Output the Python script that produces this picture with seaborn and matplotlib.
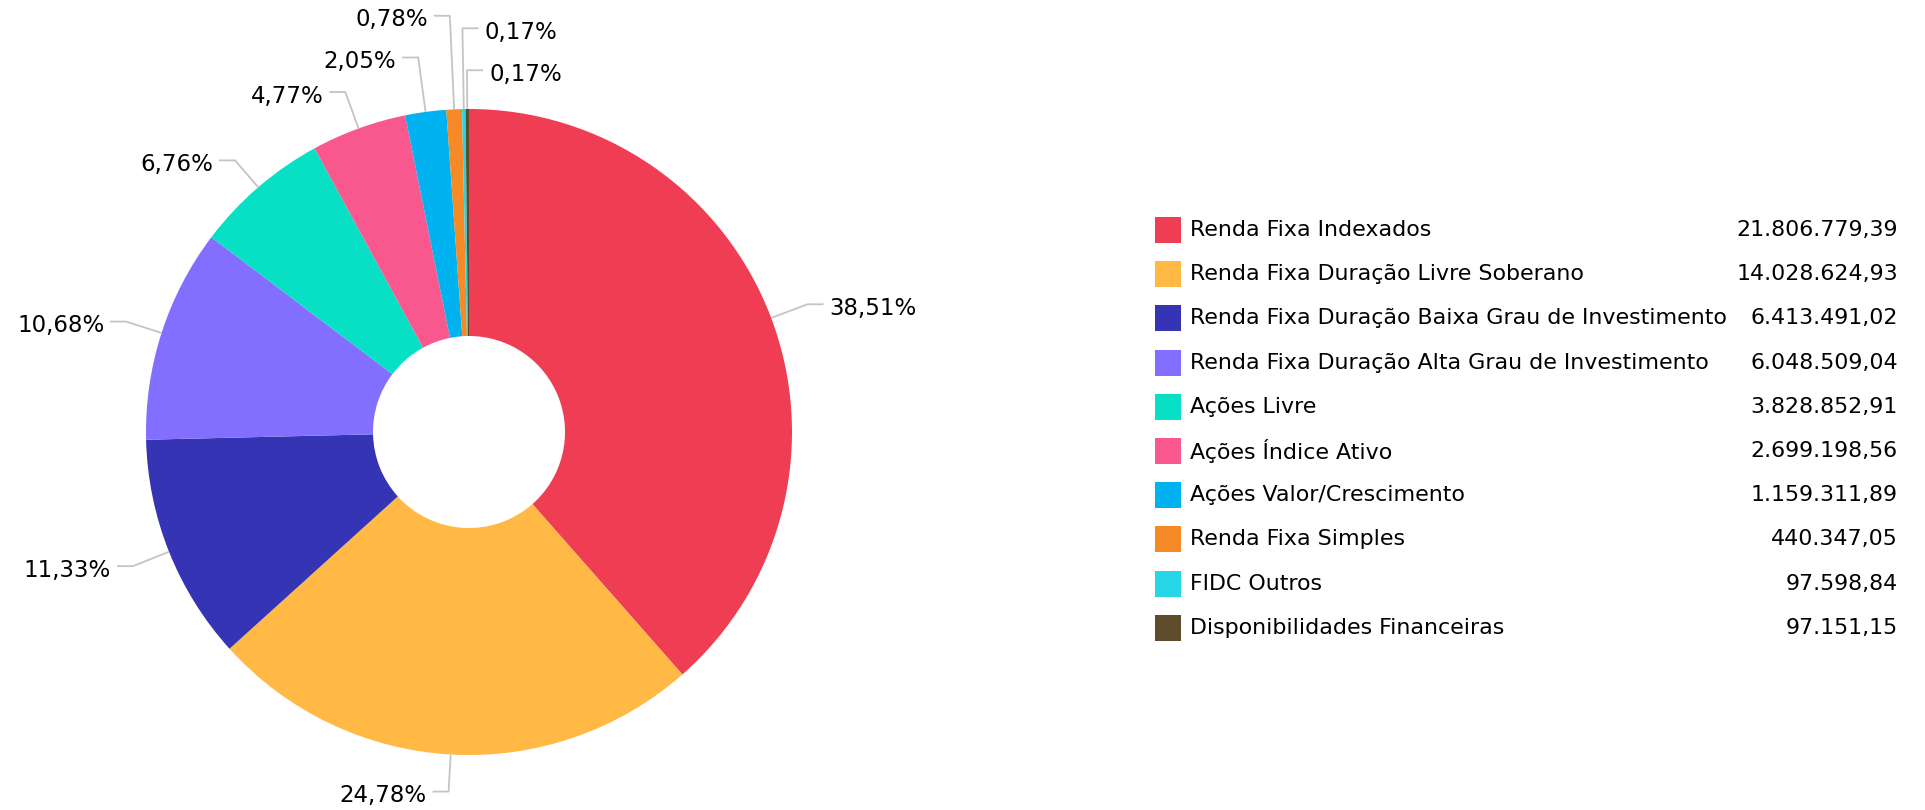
import numpy as np
import matplotlib
matplotlib.use("Agg")
import matplotlib.pyplot as plt
from matplotlib.patches import Rectangle
import seaborn as sns

sns.set_theme(style="white")
plt.rcParams['font.family'] = ['DejaVu Sans']

# ---- data ----
categories = [
    "Renda Fixa Indexados",
    "Renda Fixa Duração Livre Soberano",
    "Renda Fixa Duração Baixa Grau de Investimento",
    "Renda Fixa Duração Alta Grau de Investimento",
    "Ações Livre",
    "Ações Índice Ativo",
    "Ações Valor/Crescimento",
    "Renda Fixa Simples",
    "FIDC Outros",
    "Disponibilidades Financeiras",
]
values = [21806779.39, 14028624.93, 6413491.02, 6048509.04, 3828852.91,
          2699198.56, 1159311.89, 440347.05, 97598.84, 97151.15]
colors = ["#EF3E54", "#FFB944", "#3434B4", "#836FFF", "#08E0C6",
          "#F9588E", "#00B2F0", "#F58A26", "#27D6E6", "#5E4B2B"]

# ---- layout (pixel coords, y up) ----
W, H = 1925, 810
cx, cy = 469, 810 - 432
R = 323
r_in = 96
# per-label leader elbow radius (multiple of R) and side (+1 right, -1 left)
label_r = [1.12, 1.115, 1.12, 1.115, 1.11, 1.12, 1.17, 1.29, 1.25, 1.12]
label_side = [1, -1, -1, -1, -1, -1, -1, -1, 1, 1]


def br(v):
    s = f"{v:,.2f}"
    return s.replace(",", "X").replace(".", ",").replace("X", ".")


fig = plt.figure(figsize=(W / 100, H / 100), dpi=100)
ax = fig.add_axes([0, 0, 1, 1])

ax.pie(values, colors=colors, startangle=90, counterclock=False,
       radius=R, center=(cx, cy),
       wedgeprops=dict(width=R - r_in, linewidth=0))

total = sum(values)
start = 90.0
for i, v in enumerate(values):
    frac = v / total
    mid = np.deg2rad(start - frac * 360 / 2)
    start -= frac * 360
    p0 = (cx + R * np.cos(mid), cy + R * np.sin(mid))
    p1 = (cx + R * label_r[i] * np.cos(mid), cy + R * label_r[i] * np.sin(mid))
    s = label_side[i]
    p2 = (p1[0] + s * 16, p1[1])
    ax.plot([p0[0], p1[0], p2[0]], [p0[1], p1[1], p2[1]],
            color="#c4c4c4", lw=1.3, solid_capstyle="butt", zorder=1)
    pct = f"{frac * 100:.2f}".replace(".", ",") + "%"
    ax.text(p2[0] + s * 6, p2[1] - 4, pct, ha="left" if s > 0 else "right",
            va="center", fontsize=16.5, color="black")

# ---- legend ----
ly0 = 810 - 230
dy = 44.2
for i, (name, v, c) in enumerate(zip(categories, values, colors)):
    y = ly0 - i * dy
    ax.add_patch(Rectangle((1155, y - 13), 26, 26, color=c, lw=0))
    ax.text(1190, y, name, ha="left", va="center", fontsize=15.9, color="black")
    ax.text(1898, y, br(v), ha="right", va="center", fontsize=15.9, color="black")

ax.set_xlim(0, W)
ax.set_ylim(0, H)
ax.set_aspect("equal")
ax.axis("off")

fig.savefig("out.png", dpi=100)
